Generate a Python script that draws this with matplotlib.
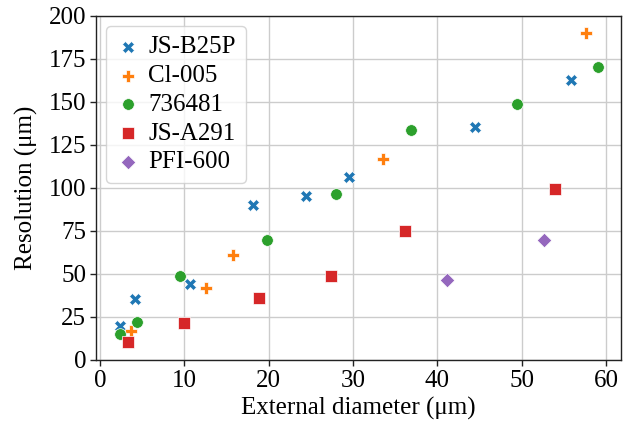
import matplotlib
matplotlib.use("Agg")
import matplotlib.pyplot as plt

plt.rcParams['font.family'] = ['Liberation Serif', 'DejaVu Serif']
plt.rcParams['font.size'] = 18

# Measured resolution vs external diameter for each sensor
jsb25p_x = [2.4, 4.1, 10.6, 18.1, 24.4, 29.5, 44.5, 55.9]
jsb25p_y = [19.5, 35.5, 44, 90, 95.5, 106.5, 135.5, 162.5]

cl005_x = [3.7, 12.6, 15.8, 33.5, 57.6]
cl005_y = [17, 42, 61, 117, 190]

s736481_x = [2.4, 4.4, 9.5, 19.8, 28.0, 36.9, 49.5, 59.1]
s736481_y = [15, 22, 48.5, 70, 96.5, 133.5, 149, 170.5]

jsa291_x = [3.3, 9.9, 18.8, 27.4, 36.2, 54.0]
jsa291_y = [10.5, 21.5, 36, 48.5, 75, 99.5]

pfi600_x = [41.1, 52.6]
pfi600_y = [46.5, 69.5]

series = [
    ('JS-B25P', jsb25p_x, jsb25p_y, 'X', '#1f77b4', 75),
    ('Cl-005', cl005_x, cl005_y, 'P', '#ff7f0e', 75),
    ('736481', s736481_x, s736481_y, 'o', '#2ca02c', 70),
    ('JS-A291', jsa291_x, jsa291_y, 's', '#d62728', 65),
    ('PFI-600', pfi600_x, pfi600_y, 'D', '#9467bd', 55),
]

fig = plt.figure(figsize=(6.23, 4.29), dpi=100)
ax = fig.add_axes([0.154, 0.161, 0.843, 0.802])

for name, xs, ys, m, c, s in series:
    ax.scatter(xs, ys, marker=m, color=c, s=s, label=name, linewidths=0.5,
               edgecolors='white', zorder=3)

ax.set_xlim(-0.5, 61.8)
ax.set_ylim(0, 200)
ax.set_xticks([0, 10, 20, 30, 40, 50, 60])
ax.set_yticks([0, 25, 50, 75, 100, 125, 150, 175, 200])
ax.grid(True, color='#cccccc', linewidth=1)
ax.set_axisbelow(True)
for sp in ax.spines.values():
    sp.set_color('#222222')
    sp.set_linewidth(1.0)
ax.tick_params(length=4, width=1, color='#222222', pad=3)

ax.set_xlabel('External diameter (μm)', labelpad=4)
ax.set_ylabel('Resolution (μm)', labelpad=8)
ax.legend(loc='upper left', frameon=True, edgecolor='#cccccc', handletextpad=0.3,
          borderpad=0.4, labelspacing=0.25, handlelength=1.0, borderaxespad=0.4)

fig.savefig('out.png', dpi=100)
